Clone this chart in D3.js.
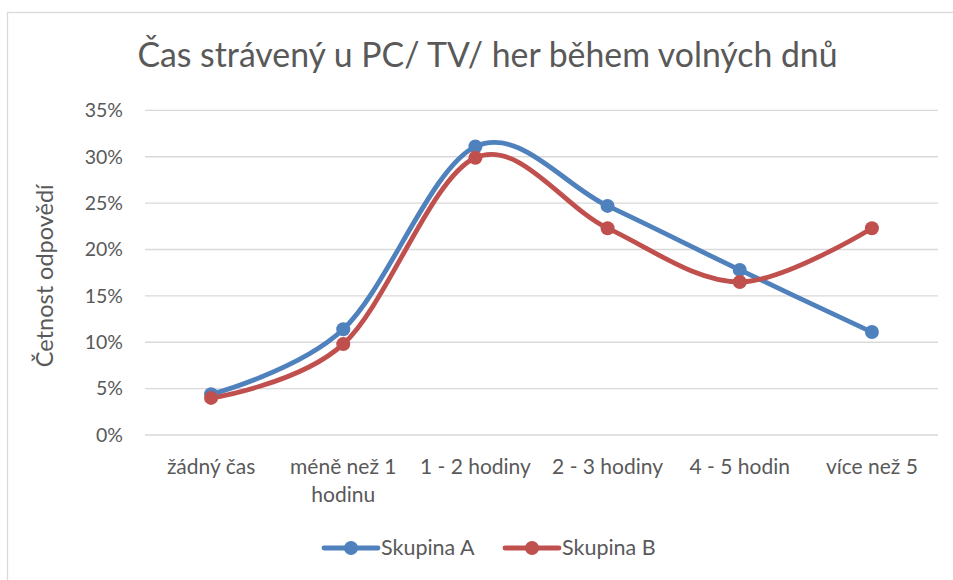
<!DOCTYPE html>
<html>
<head>
<meta charset="utf-8">
<script src="https://cdn.jsdelivr.net/npm/d3@7"></script>
<style>
  html, body { margin: 0; padding: 0; background: #fff; }
  svg { display: block; font-family: Lato, "Open Sans", sans-serif; }
</style>
</head>
<body>
<svg id="chart" width="953" height="580"></svg>
<script>
const title = "Čas strávený u PC/ TV/ her během volných dnů";
const yAxisTitle = "Četnost odpovědí";
const categories = [["žádný čas"], ["méně než 1", "hodinu"], ["1 - 2 hodiny"], ["2 - 3 hodiny"], ["4 - 5 hodin"], ["více než 5"]];
const seriesNames = ["Skupina A", "Skupina B"];
const seriesA = [0.044, 0.114, 0.311, 0.247, 0.178, 0.111];
const seriesB = [0.040, 0.098, 0.299, 0.223, 0.165, 0.223];
const yTicks = [0, 0.05, 0.10, 0.15, 0.20, 0.25, 0.30, 0.35];
const colors = ["#4F81BD", "#C0504D"];

(function () {
const svg = d3.select("#chart");
const W = 953, H = 580;
const pLeft = 145, pRight = 938, pTop = 110.4, pBottom = 435;

// chart border
svg.append("rect").attr("x", 7.5).attr("y", 12.5).attr("width", W).attr("height", H)
  .attr("fill", "none").attr("stroke", "#d9d9d9").attr("stroke-width", 1.3);

const x = d3.scaleBand().domain(categories.map((d, i) => i)).range([pLeft, pRight]);
const y = d3.scaleLinear().domain([0, 0.35]).range([pBottom, pTop]);

// gridlines
svg.append("g").selectAll("line").data(yTicks).join("line")
  .attr("x1", pLeft).attr("x2", pRight)
  .attr("y1", d => y(d)).attr("y2", d => y(d))
  .attr("stroke", "#d9d9d9").attr("stroke-width", 1.3);

// y axis labels
const yAxis = d3.axisLeft(y).tickValues(yTicks).tickFormat(d3.format(".0%")).tickSize(0).tickPadding(22);
const yg = svg.append("g").attr("transform", `translate(${pLeft},0)`).call(yAxis);
yg.select(".domain").remove();
yg.selectAll("text").attr("fill", "#595959").style("font-size", "19.5px").style("font-family", "Lato, sans-serif");

// x axis labels
const xAxis = d3.axisBottom(x).tickSize(0).tickFormat(() => "");
const xg = svg.append("g").attr("transform", `translate(0,${pBottom})`).call(xAxis);
xg.select(".domain").remove();
categories.forEach((lines, i) => {
  const t = svg.append("text")
    .attr("x", x(i) + x.bandwidth() / 2).attr("y", 474)
    .attr("text-anchor", "middle").attr("fill", "#595959")
    .style("font-size", "21px");
  lines.forEach((l, j) => t.append("tspan").attr("x", x(i) + x.bandwidth() / 2).attr("dy", j === 0 ? 0 : 28).text(l));
});

// y axis title
svg.append("text").attr("transform", `translate(53,${(pTop + pBottom) / 2 + 3}) rotate(-90)`)
  .attr("text-anchor", "middle").attr("fill", "#595959").style("font-size", "23.5px").text(yAxisTitle);

// title
svg.append("text").attr("x", 487.5).attr("y", 67).attr("text-anchor", "middle")
  .attr("fill", "#595959").style("font-size", "33.8px").text(title);

// lines
const line = d3.line().x((d, i) => x(i) + x.bandwidth() / 2).y(d => y(d)).curve(d3.curveCardinal.tension(0));
[seriesA, seriesB].forEach((s, k) => {
  svg.append("path").datum(s).attr("d", line).attr("fill", "none")
    .attr("stroke", colors[k]).attr("stroke-width", 4.8).attr("stroke-linecap", "round").attr("stroke-linejoin", "round");
});
[seriesA, seriesB].forEach((s, k) => {
  svg.append("g").selectAll("circle").data(s).join("circle")
    .attr("cx", (d, i) => x(i) + x.bandwidth() / 2).attr("cy", d => y(d)).attr("r", 7)
    .attr("fill", colors[k]);
});

// legend
const legendItems = [{name: seriesNames[0], x0: 324}, {name: seriesNames[1], x0: 505}];
legendItems.forEach((it, k) => {
  const g = svg.append("g");
  g.append("line").attr("x1", it.x0).attr("x2", it.x0 + 54).attr("y1", 548).attr("y2", 548)
    .attr("stroke", colors[k]).attr("stroke-width", 4.8).attr("stroke-linecap", "round");
  g.append("circle").attr("cx", it.x0 + 27).attr("cy", 548).attr("r", 7).attr("fill", colors[k]);
  g.append("text").attr("x", it.x0 + 57).attr("y", 555).attr("fill", "#595959").style("font-size", "21.5px").text(it.name);
});
})();
</script>
</body>
</html>
